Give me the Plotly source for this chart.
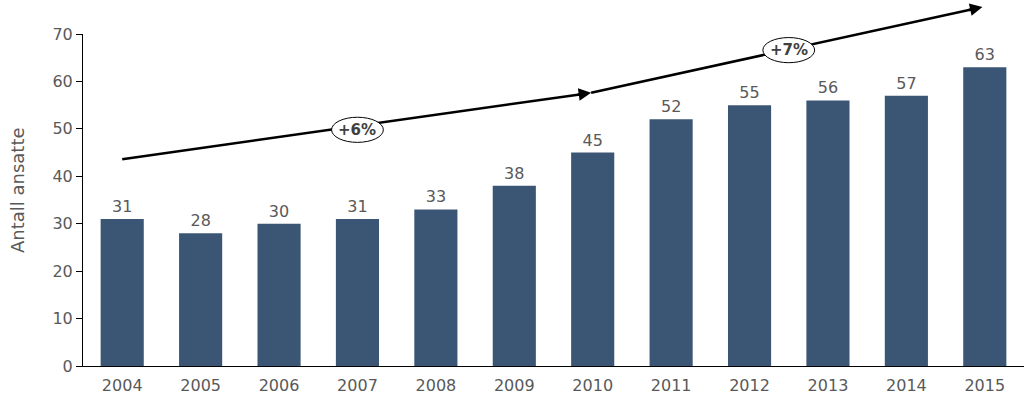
import plotly.graph_objects as go

years = ["2004", "2005", "2006", "2007", "2008", "2009", "2010", "2011", "2012", "2013", "2014", "2015"]
employees = [31, 28, 30, 31, 33, 38, 45, 52, 55, 56, 57, 63]
growth_labels = ["+6%", "+7%"]
y_title = "Antall ansatte"

BAR = "#3B5674"
GRAY = "#595959"
FONT = "DejaVu Sans"
YMAX = 70

fig = go.Figure(go.Bar(
    x=list(range(len(years))), y=employees,
    marker=dict(color=BAR, line=dict(width=0)),
    width=0.55,
    text=[str(v) for v in employees], textposition="outside",
    textfont=dict(family=FONT, size=16, color=GRAY),
    cliponaxis=False,
))

# arrow segments: (x0, y0) -> (x1, y1) in data units
segs = [(0, 43.6, 5.98, 57.6), (5.98, 57.6, 10.97, 75.7)]
shapes = []
for x0, y0, x1, y1 in segs:
    shapes.append(dict(type="line", xref="x", yref="paper", x0=x0, x1=x1 - 0.1,
                       y0=y0 / YMAX, y1=(y1 - (y1 - y0) / (x1 - x0) * 0.1) / YMAX,
                       line=dict(color="black", width=2.5), layer="above"))
ell = [(3.0, 49.8), (8.5, 66.6)]
for cx, cy in ell:
    shapes.append(dict(type="circle", xref="x", yref="paper",
                       x0=cx - 0.33, x1=cx + 0.33,
                       y0=(cy - 2.65) / YMAX, y1=(cy + 2.65) / YMAX,
                       fillcolor="white", line=dict(color="black", width=1), layer="above"))

annotations = []
# arrowheads (tail offset in pixels along the segment direction)
for (x0, y0, x1, y1), (adx, ady) in zip(segs, [(-15, 2.1), (-15, 3.3)]):
    annotations.append(dict(x=x1, y=y1 / YMAX, xref="x", yref="paper",
                            ax=adx, ay=ady, axref="pixel", ayref="pixel",
                            text="", showarrow=True,
                            arrowhead=2, arrowsize=1, arrowwidth=2.5, arrowcolor="black",
                            standoff=0, startstandoff=0))
for (cx, cy), lab in zip(ell, growth_labels):
    annotations.append(dict(x=cx, y=cy, xref="x", yref="y", text="<b>" + lab + "</b>",
                            showarrow=False, font=dict(family=FONT, size=15, color="#404040")))
# y-axis title
annotations.append(dict(x=17, y=0.53, xref="paper", yref="paper", text=y_title,
                        textangle=-90, showarrow=False, xanchor="center", yanchor="middle",
                        font=dict(family=FONT, size=18, color=GRAY)))
annotations[-1]["x"] = (17 - 83) / 941

fig.update_layout(
    width=1024, height=408,
    margin=dict(l=83, r=0, t=34, b=42),
    plot_bgcolor="white", paper_bgcolor="white",
    showlegend=False,
    shapes=shapes, annotations=annotations,
    xaxis=dict(tickmode="array", tickvals=list(range(len(years))), ticktext=years,
               range=[-0.5, len(years) - 0.5], showline=True, linecolor="black", linewidth=1,
               ticks="", showgrid=False, zeroline=False, ticklabelstandoff=5,
               tickfont=dict(family=FONT, size=16, color=GRAY)),
    yaxis=dict(range=[0, YMAX], dtick=10, showline=True, linecolor="black", linewidth=1,
               ticks="outside", ticklen=6, tickcolor="black", showgrid=False, zeroline=False,
               tickfont=dict(family=FONT, size=16, color=GRAY)),
)

fig.write_html("out.html")
